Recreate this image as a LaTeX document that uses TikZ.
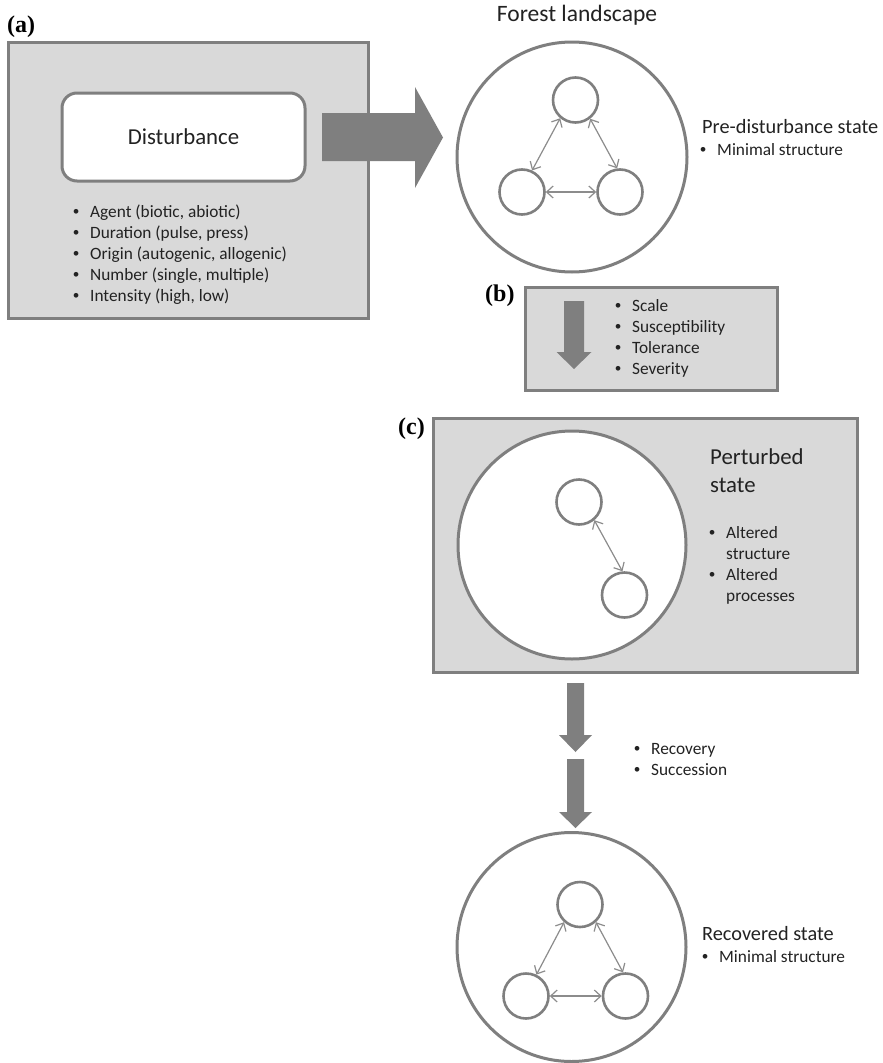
\documentclass[tikz,border=0pt]{standalone}
\usepackage{fontspec}
\setmainfont{Carlito}
\newfontfamily\lblfont{Liberation Serif}
\newfontfamily\bulfont{Liberation Sans}
\usetikzlibrary{arrows.meta}
\definecolor{edgegray}{HTML}{7F7F7F}
\definecolor{boxfill}{HTML}{D9D9D9}
\definecolor{thingray}{HTML}{8C8C8C}
\definecolor{txt}{HTML}{222222}
\newcommand{\bul}{\makebox[18pt][l]{\hspace*{1pt}{\bulfont\textbullet}}}
\newcommand{\cont}{\hspace*{18pt}}
\newcommand{\blist}[1]{\begin{tabular}[t]{@{}l@{}}#1\end{tabular}}
\tikzset{
  panel/.style={draw=edgegray, fill=boxfill, line width=3pt, inner sep=0pt},
  bigcirc/.style={circle, draw=edgegray, fill=white, line width=3pt, inner sep=0pt},
  smallcirc/.style={circle, draw=edgegray, fill=white, line width=2.6pt, minimum size=45pt, inner sep=0pt},
  link/.style={draw=thingray, line width=1.2pt, {Straight Barb[length=6.5pt,width=12pt]}-{Straight Barb[length=6.5pt,width=12pt]}},
  fatarrow/.style={fill=edgegray, draw=none},
  listtext/.style={anchor=base west, inner sep=0pt, text=txt, font=\fontsize{17.3}{21}\selectfont},
  titletext/.style={anchor=base west, inner sep=0pt, text=txt, font=\fontsize{20.3}{24}\selectfont},
  panellabel/.style={anchor=base west, inner sep=0pt, font=\lblfont\bfseries\fontsize{24}{26}\selectfont},
}
\begin{document}
\begin{tikzpicture}[x=1pt, y=-1pt]
\useasboundingbox (0,0) rectangle (883,1063);

% ---- panel (a)
\node[panellabel] (la) at (7,32) {(a)};
\node[panel, minimum width=360pt, minimum height=276pt] (boxa) at (188,180) {};
\node[draw=edgegray, fill=white, line width=3pt, rounded corners=15pt,
      minimum width=243pt, minimum height=88pt, inner sep=0pt,
      text=txt, font=\fontsize{22.8}{26}\selectfont] (dist) at (183.5,137) {Disturbance};
\node[listtext] (lista) at (72,217) {\blist{%
  \bul Agent (biotic, abiotic)\\
  \bul Duration (pulse, press)\\
  \bul Origin (autogenic, allogenic)\\
  \bul Number (single, multiple)\\
  \bul Intensity (high, low)}};

% fat right arrow
\path[fatarrow] (322,113) -- (415,113) -- (415,87) -- (443,137.5) -- (415,188) -- (415,161) -- (322,161) -- cycle;

% ---- forest landscape (pre-disturbance)
\node[anchor=base, inner sep=0pt, text=txt, font=\fontsize{23.5}{26}\selectfont] (forest) at (577,21) {Forest landscape};
\node[bigcirc, minimum size=230pt] (pre) at (572,157) {};
\node[smallcirc] (pt) at (575.5,100) {};
\node[smallcirc] (pl) at (522,192) {};
\node[smallcirc] (pr) at (620,192) {};
\draw[link] (pt.-130) -- (pl.65);
\draw[link] (pt.-52) -- (pr.97);
\draw[link] (pl.east) -- (pr.west);
\node[titletext] (pretitle) at (702,133.5) {Pre-disturbance state};
\node[listtext] (prelist) at (699,155) {\blist{\bul Minimal structure}};

% ---- panel (b)
\node[panellabel] (lb) at (485,301) {(b)};
\node[panel, minimum width=252pt, minimum height=103pt] (boxb) at (651,338.5) {};
\path[fatarrow] (564,301) -- (584,301) -- (584,352) -- (591.5,352) -- (574,369) -- (556.5,352) -- (564,352) -- cycle;
\node[listtext] (listb) at (614,311) {\blist{%
  \bul Scale\\
  \bul Susceptibility\\
  \bul Tolerance\\
  \bul Severity}};

% ---- panel (c)
\node[panellabel] (lc) at (398,434) {(c)};
\node[panel, minimum width=424pt, minimum height=254pt] (boxc) at (645,545) {};
\node[bigcirc, minimum size=228pt] (pert) at (572,545) {};
\node[smallcirc] (ct) at (579,502) {};
\node[smallcirc] (cb) at (624.5,595) {};
\draw[link] (ct.-50) -- (cb.95);
\node[anchor=base west, inner sep=0pt, text=txt, font=\fontsize{22.8}{28}\selectfont] (perttitle) at (710,464) {\blist{Perturbed\\state}};
\node[listtext] (listc) at (708,538) {\blist{%
  \bul Altered\\
  \cont structure\\
  \bul Altered\\
  \cont processes}};

% ---- recovery arrows
\path[fatarrow] (567,683) -- (584,683) -- (584,735) -- (592,735) -- (575.5,752) -- (559,735) -- (567,735) -- cycle;
\path[fatarrow] (567,759) -- (584,759) -- (584,812) -- (592,812) -- (575.5,828) -- (559,812) -- (567,812) -- cycle;
\node[listtext] (listr) at (633,754) {\blist{%
  \bul Recovery\\
  \bul Succession}};

% ---- recovered state
\node[bigcirc, minimum size=229pt] (rec) at (571.5,947) {};
\node[smallcirc] (rt) at (580,904.5) {};
\node[smallcirc] (rl) at (526,996) {};
\node[smallcirc] (rr) at (625.5,996) {};
\draw[link] (rt.-132) -- (rl.64);
\draw[link] (rt.-48) -- (rr.96);
\draw[link] (rl.east) -- (rr.west);
\node[titletext] (rectitle) at (702,940) {Recovered state};
\node[listtext] (reclist) at (701,962) {\blist{\bul Minimal structure}};
\end{tikzpicture}
\end{document}
